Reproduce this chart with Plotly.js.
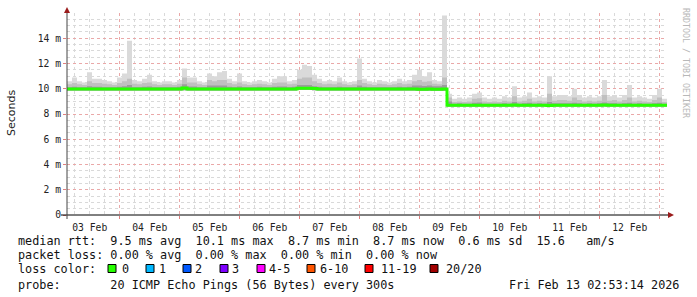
<!DOCTYPE html>
<html>
<head>
<meta charset="utf-8">
<script src="https://cdn.plot.ly/plotly-3.0.1.min.js"></script>
<style>
html,body{margin:0;padding:0;background:#fff;}
#chart{width:697px;height:297px;}
</style>
</head>
<body>
<div id="chart"></div>
<script>
// ---- data (milliseconds), one value per 2-hour bucket starting Feb 3 02:53:14 UTC ----
const startTime = "2026-02-03 02:53:14";
const endTime = "2026-02-13 02:53:14";
const bucketHours = 2;

const smokeMax = [10.6,10.9,10.6,10.5,11.3,10.8,10.8,10.7,10.6,10.5,
  10.9,11.2,13.8,10.7,10.6,10.8,11.1,10.6,10.5,10.6,
  10.6,10.5,10.7,11.6,10.9,10.9,10.6,10.5,11.2,11.0,
  11.3,11.4,10.8,10.6,11.2,10.6,10.5,10.6,10.7,10.6,
  10.5,10.8,11.0,11.0,10.6,10.7,11.5,11.9,11.8,11.1,
  10.8,10.6,10.7,10.6,10.9,10.6,10.5,10.6,12.4,10.8,
  10.6,10.5,10.7,10.6,10.5,10.6,10.8,10.6,10.7,11.1,
  11.5,11.0,11.3,10.7,10.6,15.8,9.6,9.2,9.3,9.2,
  9.3,9.6,9.7,9.3,9.2,9.3,9.2,9.4,9.3,10.2,
  9.3,9.4,9.7,9.3,9.4,9.3,11.0,9.4,9.5,9.5,
  9.4,10.0,9.5,9.3,9.4,9.3,9.4,10.7,9.4,9.5,
  9.3,9.5,10.3,9.3,9.4,9.3,9.2,9.5,10.0,9.2];

const smokeMid = [10.35,10.45,10.35,10.3,10.6,10.45,10.45,10.4,10.35,10.3,
  10.45,10.6,10.8,10.4,10.35,10.45,10.5,10.35,10.3,10.35,
  10.35,10.3,10.4,10.9,10.5,10.5,10.35,10.3,10.7,10.6,
  10.7,10.7,10.45,10.35,10.5,10.35,10.3,10.35,10.4,10.35,
  10.3,10.45,10.5,10.5,10.35,10.4,10.8,10.9,10.9,10.6,
  10.45,10.35,10.4,10.35,10.5,10.35,10.3,10.35,10.7,10.45,
  10.35,10.3,10.4,10.35,10.3,10.35,10.45,10.35,10.4,10.6,
  10.7,10.55,10.6,10.4,10.35,10.9,9.3,8.95,9.0,8.95,
  9.0,9.2,9.25,9.0,8.95,9.0,8.95,9.05,9.0,9.4,
  9.0,9.05,9.2,9.0,9.05,9.0,9.6,9.05,9.1,9.1,
  9.05,9.3,9.1,9.0,9.05,9.0,9.05,9.5,9.05,9.1,
  9.0,9.1,9.3,9.0,9.05,9.0,8.95,9.1,9.3,8.95];

const smokeDark = [10.12,10.15,10.12,10.12,10.2,10.15,10.15,10.12,10.12,10.12,
  10.15,10.2,10.3,10.12,10.12,10.15,10.18,10.12,10.12,10.12,
  10.12,10.12,10.15,10.35,10.18,10.18,10.12,10.12,10.25,10.25,
  10.25,10.25,10.15,10.12,10.18,10.12,10.12,10.12,10.15,10.12,
  10.12,10.15,10.18,10.18,10.12,10.15,10.3,10.3,10.3,10.2,
  10.15,10.12,10.12,10.12,10.15,10.12,10.12,10.12,10.25,10.15,
  10.12,10.12,10.12,10.12,10.12,10.12,10.15,10.12,10.15,10.25,
  10.25,10.22,10.25,10.2,10.2,10.3,9.0,8.82,8.85,8.82,
  8.82,8.9,8.92,8.82,8.82,8.82,8.82,8.85,8.82,8.95,
  8.82,8.85,8.9,8.82,8.85,8.82,8.95,8.85,8.85,8.85,
  8.85,8.9,8.85,8.82,8.85,8.82,8.85,8.92,8.85,8.85,
  8.82,8.85,8.9,8.82,8.85,8.82,8.82,8.85,8.9,8.82];

const smokeLow = [9.86,9.86,9.86,9.86,9.86,9.86,9.86,9.86,9.86,9.86,
  9.86,9.86,9.86,9.86,9.86,9.86,9.86,9.86,9.86,9.86,
  9.86,9.86,9.86,9.88,9.86,9.86,9.86,9.86,9.86,9.86,
  9.86,9.86,9.86,9.86,9.86,9.86,9.86,9.86,9.86,9.86,
  9.86,9.86,9.86,9.86,9.86,9.86,9.9,9.9,9.9,9.88,
  9.86,9.86,9.86,9.86,9.86,9.86,9.86,9.86,9.86,9.86,
  9.86,9.86,9.86,9.86,9.86,9.86,9.86,9.86,9.86,9.86,
  9.84,9.84,9.84,9.84,9.84,9.84,8.6,8.6,8.6,8.6,
  8.6,8.6,8.6,8.6,8.6,8.6,8.6,8.6,8.6,8.6,
  8.6,8.6,8.6,8.6,8.6,8.6,8.56,8.6,8.6,8.6,
  8.6,8.6,8.6,8.6,8.6,8.6,8.6,8.6,8.6,8.6,
  8.6,8.6,8.6,8.6,8.6,8.6,8.6,8.6,8.6,8.6];

const medianRtt = [9.98,9.98,9.98,9.98,9.98,9.98,9.98,9.98,9.98,9.98,
  9.98,9.98,9.98,9.98,9.98,9.98,9.98,9.98,9.98,9.98,
  9.98,9.98,9.98,10.05,9.98,9.98,9.98,9.98,9.98,9.98,
  9.98,9.98,9.98,9.98,9.98,9.98,9.98,9.98,9.98,9.98,
  9.98,9.98,9.98,9.98,9.98,9.98,10.04,10.04,10.04,10.02,
  9.98,9.98,9.98,9.98,9.98,9.98,9.98,9.98,9.98,9.98,
  9.98,9.98,9.98,9.98,9.98,9.98,9.98,9.98,9.98,9.98,
  9.97,9.97,9.98,9.97,9.97,9.98,8.7,8.7,8.7,8.7,
  8.7,8.7,8.7,8.7,8.7,8.7,8.7,8.7,8.7,8.72,
  8.7,8.7,8.7,8.7,8.7,8.7,8.68,8.7,8.7,8.7,
  8.7,8.7,8.7,8.7,8.7,8.7,8.7,8.72,8.7,8.7,
  8.7,8.7,8.7,8.7,8.7,8.7,8.7,8.7,8.7,8.7];

const yTickVals = [0,2,4,6,8,10,12,14];
const yTickText = ["0","2 m","4 m","6 m","8 m","10 m","12 m","14 m"];

const lossLabels = ["0","1","2","3","4-5","6-10","11-19","20/20"];
const lossColors = ["#26ff00","#00b8ff","#0059ff","#7e00ff","#ff00ff","#ff5500","#ff0000","#a10000"];

const legendLines = [
  "median rtt:  9.5 ms avg  10.1 ms max  8.7 ms min  8.7 ms now  0.6 ms sd  15.6   am/s",
  "packet loss: 0.00 % avg  0.00 % max  0.00 % min  0.00 % now",
  "loss color:",
  "probe:       20 ICMP Echo Pings (56 Bytes) every 300s"
];
const stampText = "Fri Feb 13 02:53:14 2026";
const watermark = "RRDTOOL / TOBI OETIKER";

// ---- build ----
function toMs(s){ const p=s.split(/[- :]/).map(Number); return Date.UTC(p[0],p[1]-1,p[2],p[3],p[4],p[5]); }
const t0 = toMs(startTime), t1 = toMs(endTime);
const times = [];
for (let i=0;i<=smokeMax.length;i++) times.push(t0 + i*bucketHours*3600000);
const ext = a => a.concat([a[a.length-1]]);

const base = {x: times, mode:'lines', line:{shape:'hv', width:0}, hoverinfo:'skip', showlegend:false};
const traces = [
  Object.assign({}, base, {y: ext(smokeLow)}),
  Object.assign({}, base, {y: ext(smokeMax), fill:'tonexty', fillcolor:'#dadada'}),
  Object.assign({}, base, {y: ext(smokeLow)}),
  Object.assign({}, base, {y: ext(smokeMid), fill:'tonexty', fillcolor:'#c0c0c0'}),
  Object.assign({}, base, {y: ext(smokeLow)}),
  Object.assign({}, base, {y: ext(smokeDark), fill:'tonexty', fillcolor:'#9c9c9c'}),
  {x: times, y: ext(medianRtt), mode:'lines', line:{shape:'hv', width:3, color:'#26ff00'}, hoverinfo:'skip', showlegend:false}
];

const L=67, R=30, T=13, B=82, W=697, H=297;
const pw = W-L-R, ph = H-T-B;
const px = x => (x-L)/pw;
const py = y => (H-B-y)/ph;
const nb = s => s.replace(/ /g,'\u00a0');
const mono = 'DejaVu Sans Mono, monospace';

const annotations = [];
const legY = [241, 255, 268.5, 285];
legendLines.forEach((t,i)=>{
  annotations.push({xref:'paper', yref:'paper', x:px(16), y:py(legY[i]), xanchor:'left', yanchor:'middle',
    text: nb(t), showarrow:false, font:{family:mono, size:11.8, color:'#111'}});
});
annotations.push({xref:'paper', yref:'paper', x:px(681), y:py(legY[3]), xanchor:'right', yanchor:'middle',
  text: nb(stampText), showarrow:false, font:{family:mono, size:11.8, color:'#111'}});
const boxX = [108,146,183,220,257,307,365,430];
const labX = [120,157,193,230,267,318,379,444];
const shapes = [];
lossLabels.forEach((lab,i)=>{
  shapes.push({type:'rect', xref:'paper', yref:'paper', x0:px(boxX[i]), x1:px(boxX[i]+8), y0:py(272.5), y1:py(264.5),
    line:{color:'#000', width:1}, fillcolor:lossColors[i], layer:'above'});
  annotations.push({xref:'paper', yref:'paper', x:px(labX[i]), y:py(legY[2]), xanchor:'left', yanchor:'middle',
    text: nb(lab), showarrow:false, font:{family:mono, size:11.8, color:'#111'}});
});
annotations.push({xref:'paper', yref:'paper', x:px(11), y:py(113), xanchor:'center', yanchor:'middle', textangle:-90,
  text:'Seconds', showarrow:false, font:{family:'DejaVu Sans, sans-serif', size:11, color:'#222'}});
annotations.push({xref:'paper', yref:'paper', x:px(686), y:py(6), xanchor:'center', yanchor:'top', textangle:90,
  text: nb(watermark), showarrow:false, font:{family:mono, size:8.3, color:'#b8b8b8'}});

// axis lines and arrows
shapes.push({type:'line', xref:'paper', yref:'paper', x0:px(61), x1:px(670), y0:0, y1:0, line:{color:'#000', width:1}, layer:'above'});
shapes.push({type:'line', xref:'paper', yref:'paper', x0:0, x1:0, y0:py(219), y1:py(11), line:{color:'#444', width:1}, layer:'above'});
shapes.push({type:'path', xref:'paper', yref:'paper', layer:'above', line:{width:0}, fillcolor:'#9b1c1c',
  path:`M ${px(674)} ${py(215)} L ${px(668)} ${py(212)} L ${px(668)} ${py(218)} Z`});
shapes.push({type:'path', xref:'paper', yref:'paper', layer:'above', line:{width:0}, fillcolor:'#9b1c1c',
  path:`M ${px(67)} ${py(7)} L ${px(64)} ${py(13)} L ${px(70)} ${py(13)} Z`});

const layout = {
  width:W, height:H, margin:{l:L, r:R, t:T, b:B, pad:0},
  paper_bgcolor:'#ffffff', plot_bgcolor:'#ffffff', showlegend:false,
  xaxis:{type:'date', range:[t0,t1], tickmode:'linear', tick0:Date.UTC(2026,1,3), dtick:86400000,
    ticklabelmode:'period', tickformat:'%d %b', showgrid:true, gridcolor:'#eaa8a8', griddash:'dot', gridwidth:1,
    minor:{tickmode:'linear', tick0:Date.UTC(2026,1,3), dtick:6*3600000, showgrid:true, gridcolor:'#d9d9d9', griddash:'dot', gridwidth:1},
    ticks:'outside', ticklen:3, tickcolor:'#e08080', showline:false, zeroline:false,
    tickfont:{family:mono, size:9.7, color:'#222'}, fixedrange:true},
  yaxis:{range:[0,16], tickmode:'array', tickvals:yTickVals, ticktext:yTickText,
    showgrid:true, gridcolor:'#eaa8a8', griddash:'dot', gridwidth:1,
    minor:{tickmode:'linear', tick0:0, dtick:0.5, showgrid:true, gridcolor:'#d9d9d9', griddash:'dot', gridwidth:1},
    ticks:'outside', ticklen:3, tickcolor:'#e08080', showline:false, zeroline:false,
    tickfont:{family:mono, size:9.7, color:'#222'}, fixedrange:true},
  annotations, shapes
};
Plotly.newPlot('chart', traces, layout, {displayModeBar:false, staticPlot:true});
</script>
</body>
</html>
